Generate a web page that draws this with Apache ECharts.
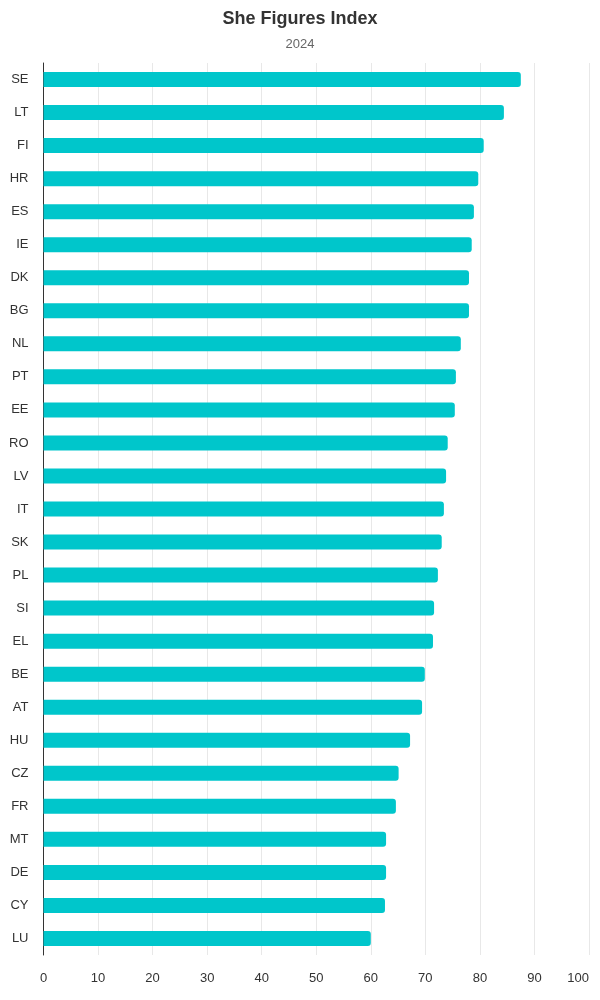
<!DOCTYPE html>
<html>
<head>
<meta charset="utf-8">
<script src="https://cdn.jsdelivr.net/npm/echarts@6/dist/echarts.min.js"></script>
<style>
  html, body { margin: 0; padding: 0; background: #fff; }
  #chart { width: 600px; height: 1000px; }
</style>
</head>
<body>
<div id="chart"></div>
<script>
// countries, top to bottom as in the picture
var countries = ['SE', 'LT', 'FI', 'HR', 'ES', 'IE', 'DK', 'BG', 'NL', 'PT', 'EE', 'RO', 'LV', 'IT',
    'SK', 'PL', 'SI', 'EL', 'BE', 'AT', 'HU', 'CZ', 'FR', 'MT', 'DE', 'CY', 'LU']
var indexValues = [87.5, 84.4, 80.7, 79.7, 78.9, 78.5, 78.0, 78.0, 76.5, 75.6, 75.4, 74.1, 73.8, 73.4,
    73.0, 72.3, 71.6, 71.4, 69.9, 69.4, 67.2, 65.1, 64.6, 62.8, 62.8, 62.6, 60.0]
var xTicks = { min: 0, max: 100, step: 10 }

var chart = echarts.init(document.getElementById('chart'))

var option = {
    animation: false,
    title: {
        text: 'She Figures Index',
        subtext: '2024',
        left: 'center',
        top: 5,
        itemGap: 10,
        textStyle: {
            fontFamily: 'Liberation Sans',
            fontSize: 18,
            fontWeight: 'bold',
            color: '#333'
        },
        subtextStyle: {
            fontFamily: 'Liberation Sans',
            fontSize: 13,
            color: '#666'
        }
    },
    grid: {
        left: 43.5,
        right: 11,
        top: 63,
        bottom: 45
    },
    xAxis: {
        type: 'value',
        min: xTicks.min,
        max: xTicks.max,
        interval: xTicks.step,
        axisLine: { show: false },
        axisTick: { show: false },
        splitLine: { lineStyle: { color: '#e8e8e8' } },
        axisLabel: {
            margin: 17,
            alignMaxLabel: 'right',
            fontFamily: 'Liberation Sans',
            fontSize: 13,
            color: '#333'
        }
    },
    yAxis: {
        type: 'category',
        inverse: true,
        data: countries,
        axisLine: { lineStyle: { color: '#333', width: 1 } },
        axisTick: { show: false },
        axisLabel: {
            margin: 15,
            fontFamily: 'Liberation Sans',
            fontSize: 13,
            color: '#333'
        }
    },
    series: [{
        type: 'bar',
        data: indexValues,
        barWidth: 15,
        itemStyle: {
            color: '#00c6cb',
            borderRadius: [0, 3, 3, 0]
        }
    }]
}

chart.setOption(option)
</script>
</body>
</html>
